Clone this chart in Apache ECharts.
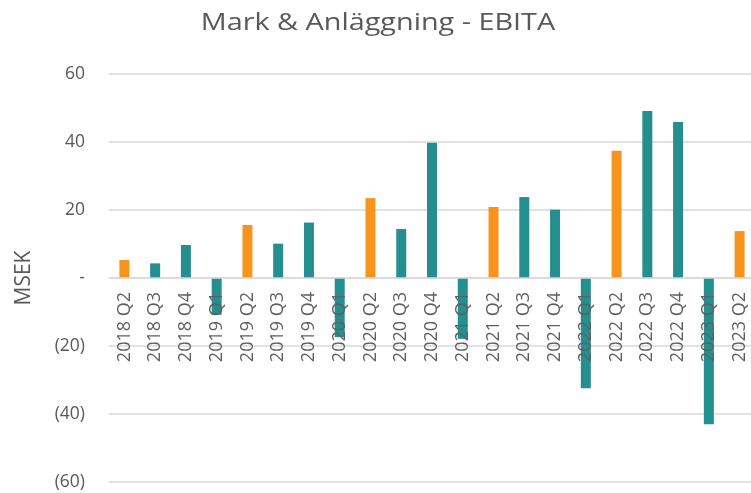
<!DOCTYPE html>
<html><head><meta charset="utf-8">
<script src="https://cdn.jsdelivr.net/npm/echarts@6/dist/echarts.min.js"></script>
<style>html,body{margin:0;padding:0;background:#fff}#c{width:751px;height:493px}</style>
</head><body><div id="c"></div>
<script>
const categories = ["2018 Q2","2018 Q3","2018 Q4","2019 Q1","2019 Q2","2019 Q3","2019 Q4","2020 Q1","2020 Q2","2020 Q3","2020 Q4","2021 Q1","2021 Q2","2021 Q3","2021 Q4","2022 Q1","2022 Q2","2022 Q3","2022 Q4","2023 Q1","2023 Q2"];
const ebita = [5.3,4.3,9.7,-10.8,15.6,10.1,16.3,-17.4,23.5,14.4,39.8,-17.9,20.9,23.8,20.1,-32.4,37.4,49.1,45.9,-43.0,13.8];
const title = "Mark & Anläggning - EBITA";
const yName = "MSEK";
const colorQ2 = "#F7941D", colorOther = "#258F90";
const font = "'Open Sans', 'Noto Sans', sans-serif";
const chart = echarts.init(document.getElementById('c'), null, {renderer:'canvas'});
chart.setOption({
  animation:false,
  graphic:[{type:'text',x:378,y:11,scaleX:1.2,z:10,
    style:{text:title,x:0,y:0,textAlign:'center',textVerticalAlign:'top',
      font:"normal 24px 'Open Sans', 'Noto Sans', sans-serif",fill:'#595959'}}],
  grid:{left:109,right:-4,top:74,bottom:11,containLabel:false,outerBoundsMode:'none'},
  xAxis:{type:'category',data:categories,z:5,
    offset:-204,
    axisLine:{onZero:false,lineStyle:{color:'#d9d9d9',width:1.5}},
    axisTick:{show:false},
    axisLabel:{rotate:90,interval:0,margin:14,fontFamily:font,fontSize:18,color:'#5f5f5f'}},
  yAxis:{type:'value',min:-60,max:60,interval:20,
    name:yName,nameLocation:'middle',nameGap:74,nameRotate:90,
    nameTextStyle:{fontFamily:font,fontSize:21,color:'#595959'},
    axisLine:{show:false},axisTick:{show:false},
    splitLine:{lineStyle:{color:'#d9d9d9',width:1.5}},
    axisLabel:{margin:24,fontFamily:font,fontSize:17.5,color:'#595959',
      formatter:v=> v===0 ? '-' : (v<0 ? '('+Math.abs(v)+')' : String(v))}},
  series:[{type:'bar',barWidth:10,z:2,
    data:ebita.map((v,i)=>({value:v,itemStyle:{color:categories[i].endsWith('Q2')?colorQ2:colorOther}}))}]
});
</script></body></html>
